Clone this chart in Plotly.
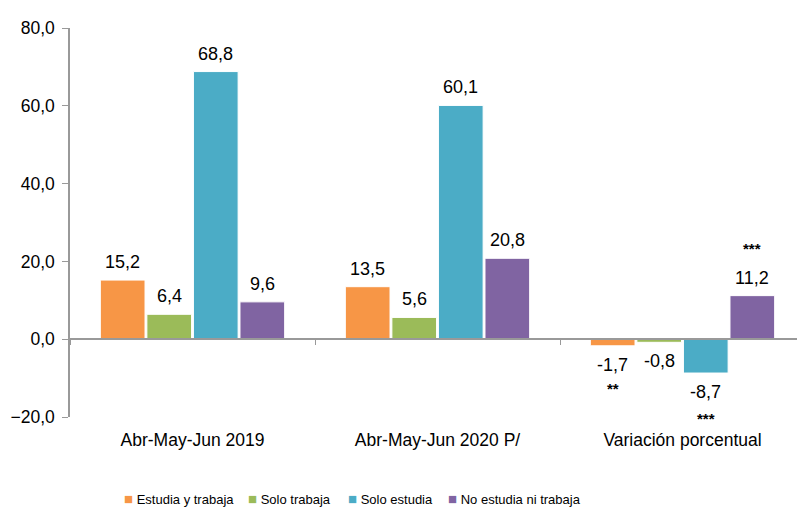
import plotly.graph_objects as go

categories = ["Abr-May-Jun 2019", "Abr-May-Jun 2020 P/", "Variación porcentual"]
series_names = ["Estudia y trabaja", "Solo trabaja", "Solo estudia", "No estudia ni trabaja"]
values = [
    [15.2, 13.5, -1.7],
    [6.4, 5.6, -0.8],
    [68.8, 60.1, -8.7],
    [9.6, 20.8, 11.2],
]
colors = ["#F79646", "#9BBB59", "#4BACC6", "#8064A2"]
# significance marks: (series index, category index, text)
sig_marks = [(0, 2, "**"), (2, 2, "***"), (3, 2, "***")]

FONT = "Liberation Sans, Arial, sans-serif"
OFF = 8  # page body margin
W, H = 805 - OFF, 511 - OFF
ML, MR, MT, MB = 70 - OFF, 0, 28 - OFF, 511 - 417
PW = W - ML - MR

bargap = 0.24
groupgap = 0.04
slot = (1 - bargap) / 4
cat_px = PW / 3

fig = go.Figure()
for si, (name, vals, col) in enumerate(zip(series_names, values, colors)):
    fig.add_trace(go.Bar(
        x=categories, y=vals, name=name,
        marker=dict(color=col, line=dict(color="white", width=1)),
        cliponaxis=False, showlegend=False, hoverinfo="x+y+name",
    ))
    xshift = (si - 1.5) * slot * cat_px
    for c, v in zip(categories, vals):
        fig.add_annotation(
            x=c, y=v, xref="x", yref="y", text=f"{v:.1f}".replace(".", ","),
            showarrow=False, xshift=xshift,
            yanchor="bottom" if v >= 0 else "top",
            yshift=6 if v >= 0 else -7,
            font=dict(size=18, color="black", family=FONT),
        )

# invisible trace for the zero-line axis with boundary ticks
fig.add_trace(go.Scatter(x=categories, y=[0, 0, 0], xaxis="x2", mode="markers",
                         marker=dict(opacity=0), showlegend=False, hoverinfo="skip"))

sig_shift = {"**": -43, "***": -45}
for si, ci, txt in sig_marks:
    v = values[si][ci]
    xshift = (si - 1.5) * slot * cat_px
    ys = 47 if v >= 0 else sig_shift[txt]
    fig.add_annotation(
        x=categories[ci], y=v, xref="x", yref="y", text=f"<b>{txt}</b>",
        showarrow=False, xshift=xshift, yshift=ys,
        font=dict(size=15, color="black", family=FONT),
    )

# legend drawn as text items below the chart
legend_x_px = [122, 246, 346, 446]
legend_y_px = 498
for name, col, xp in zip(series_names, colors, legend_x_px):
    fig.add_annotation(
        x=(xp - OFF - ML) / PW, y=(H - MB - (legend_y_px - OFF)) / (H - MT - MB),
        xref="paper", yref="paper",
        xanchor="left", yanchor="middle", showarrow=False,
        text=f"<span style='color:{col};font-size:15px'>■</span> {name}",
        font=dict(size=13, color="black", family=FONT),
    )

fig.update_layout(
    width=W, height=H,
    margin=dict(l=ML, r=MR, t=MT, b=MB, autoexpand=False),
    plot_bgcolor="white", paper_bgcolor="white",
    barmode="group", bargap=bargap, bargroupgap=groupgap,
    separators=",.",
    font=dict(family=FONT, size=17, color="black"),
    showlegend=False,
    xaxis=dict(showline=False, ticks="", showgrid=False, zeroline=False,
               ticklabelstandoff=10,
               tickfont=dict(size=17.5, family=FONT), automargin=False),
    xaxis2=dict(overlaying="x", matches="x", anchor="free", position=0.2,
                showline=True, linecolor="#999999", linewidth=1.5,
                ticks="outside", tickson="boundaries", ticklen=5, tickcolor="#999999",
                showticklabels=False, showgrid=False, zeroline=False),
    yaxis=dict(range=[-20, 80], dtick=20, tickformat=".1f", showline=True,
               linecolor="#999999", linewidth=1.5, ticks="outside", ticklen=6,
               tickcolor="#999999", showgrid=False, zeroline=False,
               ticklabelstandoff=4, automargin=False,
               tickfont=dict(size=17.5, family=FONT)),
)

fig.write_html("out.html")
